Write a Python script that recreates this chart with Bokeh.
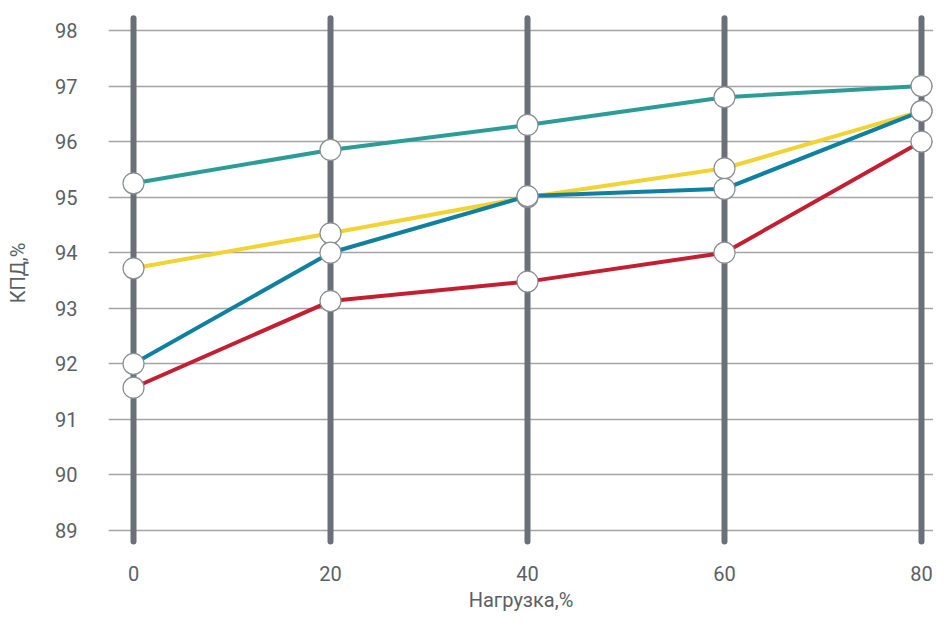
from bokeh.plotting import figure
from bokeh.embed import file_html
from bokeh.resources import INLINE
from bokeh.models import Range1d, FixedTicker

# Data
load = [0, 20, 40, 60, 80]
teal = [95.25, 95.85, 96.3, 96.8, 97.0]
yellow = [93.72, 94.35, 95.0, 95.52, 96.55]
blue = [92.0, 94.0, 95.02, 95.15, 96.55]
red = [91.57, 93.13, 93.48, 94.0, 96.0]
y_ticks = [89, 90, 91, 92, 93, 94, 95, 96, 97, 98]

series = [(teal, "#2c9c96"), (yellow, "#f1d334"), (blue, "#0f80a0"), (red, "#c31f32")]

p = figure(width=933, height=617, output_backend="svg", toolbar_location=None,
           x_range=Range1d(-2.54, 81.22), y_range=Range1d(88.73, 98.54),
           min_border_left=108, min_border_right=0, min_border_top=0, min_border_bottom=72)
p.outline_line_color = None
p.background_fill_color = "white"
p.border_fill_color = "white"

p.xgrid.grid_line_color = None
p.ygrid.grid_line_color = "#a2a4a7"
p.ygrid.grid_line_width = 1.6

# thick vertical bars
p.segment(x0=load, y0=[88.8] * len(load), x1=load, y1=[98.22] * len(load),
          line_color="#6b7078", line_width=6, line_cap="round")

for vals, col in series:
    p.line(load, vals, line_color=col, line_width=4)
for vals, col in series:
    p.scatter(load, vals, size=21, fill_color="white", line_color="#8a8d91", line_width=1.2)

label_font = "Roboto"
for ax in (p.xaxis, p.yaxis):
    ax.axis_line_color = None
    ax.major_tick_line_color = None
    ax.minor_tick_line_color = None
    ax.major_tick_out = 0
    ax.major_tick_in = 0
    ax.minor_tick_out = 0
    ax.minor_tick_in = 0
    ax.major_label_text_font = label_font
    ax.major_label_text_font_size = "20px"
    ax.major_label_text_color = "#5a5f66"
    ax.axis_label_text_font = label_font
    ax.axis_label_text_font_size = "20px"
    ax.axis_label_text_font_style = "normal"
    ax.axis_label_text_color = "#5a5f66"

p.xaxis.ticker = FixedTicker(ticks=load)
p.yaxis.ticker = FixedTicker(ticks=y_ticks)
p.yaxis.major_label_standoff = 31
p.xaxis.major_label_standoff = 20
p.yaxis.axis_label = "КПД,%"
p.xaxis.axis_label = "Нагрузка,%"
p.yaxis.axis_label_standoff = 22
p.xaxis.axis_label_standoff = 4

open("out.html", "w").write(file_html(p, INLINE))
